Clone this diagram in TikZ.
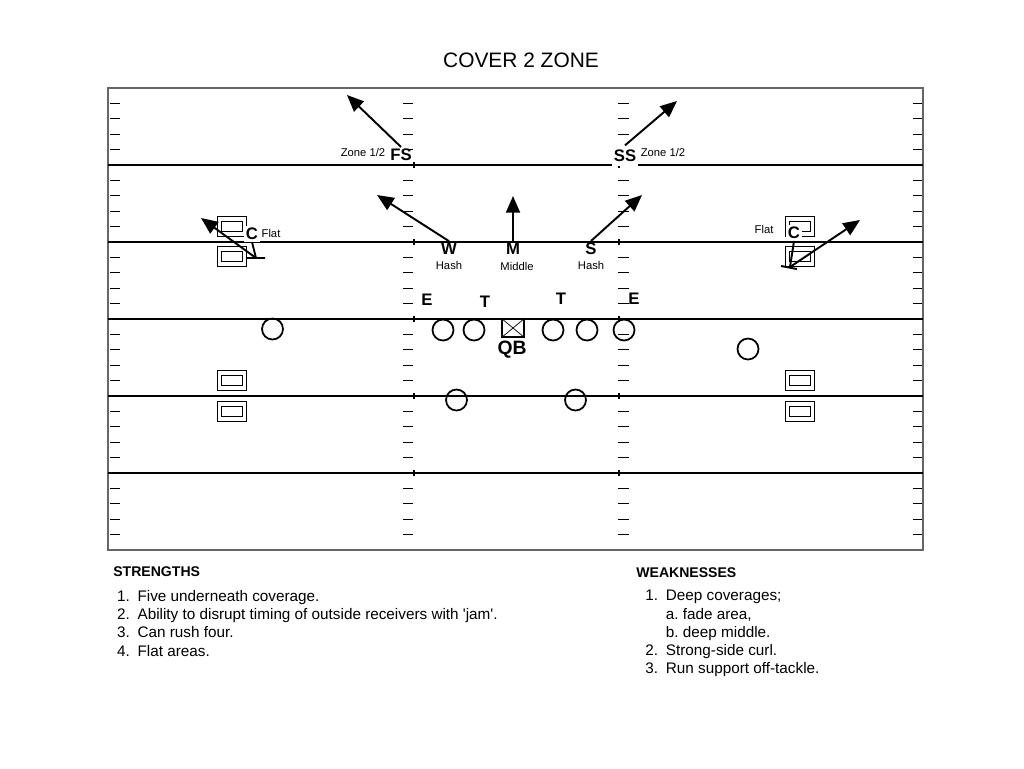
\documentclass[tikz,border=0pt]{standalone}
\usepackage{fontspec}
\setmainfont{Liberation Sans}
\usetikzlibrary{arrows.meta}

\tikzset{
  player/.style={font=\bfseries\fontsize{9.5}{11}\selectfont, inner sep=1pt},
  zonetext/.style={font=\fontsize{6.4}{7.5}\selectfont, inner sep=1pt},
  ol/.style={circle, draw, line width=1pt, minimum size=0.42cm, inner sep=0pt},
  wr/.style={rectangle, draw, line width=0.6pt, minimum width=0.59cm, minimum height=0.414cm,
    inner sep=0pt, path picture={
      \draw[line width=0.6pt] ([xshift=0.085cm, yshift=0.102cm]path picture bounding box.south west)
        rectangle ([xshift=-0.085cm, yshift=-0.102cm]path picture bounding box.north east);}},
  cover/.style={-{Triangle[length=9.5pt,width=8pt]}, line width=1.1pt},
  yard/.style={line width=0.7pt},
  hashtick/.style={line width=0.7pt},
  heading/.style={anchor=base west, inner sep=0pt, font=\bfseries\fontsize{8}{10}\selectfont},
  notes/.style={anchor=north west, align=left, inner sep=0pt, font=\fontsize{8.7}{10.4}\selectfont\frenchspacing},
}

\begin{document}
\begin{tikzpicture}[x=0.02cm, y=-0.02cm]
\useasboundingbox (0,0) rectangle (1024,768);
\node (title) at (521,60) {\fontsize{11.9}{14}\selectfont COVER 2 ZONE};

% field
\draw[line width=1.1pt, draw=gray!80!black] (108,88) rectangle (923,550);
\foreach \y in {165,242,319,396,473}
  \draw[yard] (108,\y) -- (923,\y);
\foreach \k in {0,...,5}
  \foreach \j in {1,...,4}
    \draw[hashtick] (110,{88+77*\k+15.4*\j}) -- (120,{88+77*\k+15.4*\j})
      (403,{88+77*\k+15.4*\j}) -- (413,{88+77*\k+15.4*\j})
      (618,{88+77*\k+15.4*\j}) -- (629,{88+77*\k+15.4*\j})
      (913,{88+77*\k+15.4*\j}) -- (922,{88+77*\k+15.4*\j});
\foreach \y in {165,242,319,396,473}
  \draw[hashtick] (414,\y-3) -- (414,\y+3) (619,\y-3) -- (619,\y+3);

% receivers
\node[wr] (wrL1) at (232,226.5) {};
\node[wr] (wrL2) at (232,256.5) {};
\node[wr] (wrL3) at (232,380.5) {};
\node[wr] (wrL4) at (232,411.5) {};
\node[wr] (wrR1) at (800,226.5) {};
\node[wr] (wrR2) at (800,256.5) {};
\node[wr] (wrR3) at (800,380.5) {};
\node[wr] (wrR4) at (800,411.5) {};

% offense
\node[ol] (slotL) at (272.5,329) {};
\node[ol] (lt) at (443,330) {};
\node[ol] (lg) at (474,330) {};
\node[draw, line width=1pt, minimum width=0.44cm, minimum height=0.36cm, inner sep=0pt] (ctr) at (513,328) {};
\draw[line width=0.4pt] (ctr.north west) -- (ctr.south east) (ctr.south west) -- (ctr.north east);
\node[ol] (rg) at (553,330) {};
\node[ol] (rt) at (587,330) {};
\node[ol] (te) at (624,330) {};
\node[ol] (rbL) at (456.5,400) {};
\node[ol] (rbR) at (575.5,400) {};
\node[ol] (slotR) at (748,349) {};
\node[player, font=\bfseries\fontsize{11}{13}\selectfont] (QB) at (512,350) {QB};

% defense
\node[player] (FS) at (401,155) {FS};
\node[zonetext] (FSzone) at (363,152) {Zone 1/2};
\node[player, fill=white, inner xsep=1pt, inner ysep=2.5pt] (SS) at (625,156) {SS};
\node[zonetext] (SSzone) at (663,152) {Zone 1/2};
\node[player] (W) at (449,249) {W};
\node[zonetext] (Whash) at (449,265) {Hash};
\node[player] (M) at (513,249) {M};
\node[zonetext] (Mmid) at (517,266) {Middle};
\node[player] (S) at (591,249) {S};
\node[zonetext] (Shash) at (591,265) {Hash};
\node[player, fill=white] (CL) at (252,234) {C};
\node[zonetext] (CLflat) at (271,233) {Flat};
\node[player, fill=white] (CR) at (794,233) {C};
\node[zonetext] (CRflat) at (764,229) {Flat};
\node[player] (EL) at (427,300) {E};
\node[player] (TL) at (485,302) {T};
\node[player] (TR) at (561,299) {T};
\node[player] (ER) at (634,299) {E};

% drops
\coordinate (FStip) at (347,95);
\coordinate (SStip) at (677,101);
\coordinate (Wtip) at (377,195);
\coordinate (Mtip) at (513,196);
\coordinate (Stip) at (642,195);
\coordinate (jamL) at (256,258);
\coordinate (CLtip) at (201,218);
\coordinate (jamR) at (790,267);
\coordinate (CRtip) at (860,220);
\draw[cover] (FS.north) -- (FStip);
\draw[cover] (SS.north) -- (SStip);
\draw[cover] (W.north) -- (Wtip);
\draw[cover] (M.north) -- (Mtip);
\draw[cover] (S.north) -- (Stip);
\draw[line width=1.1pt] (CL.south) -- (jamL) ++(-9,0) -- ++(18,0);
\draw[cover] (jamL) -- (CLtip);
\draw[line width=1.1pt] (CR.south) -- (jamR) ++(-9,-1) -- ++(16,3);
\draw[cover] (jamR) -- (CRtip);

% notes
\node[heading] (strengths) at (113,576) {STRENGTHS};
\node[notes] (strlist) at (116.7,590)
  {\makebox[11.7pt][l]{1.}Five underneath coverage.\\
   \makebox[11.7pt][l]{2.}Ability to disrupt timing of outside receivers with \textquotesingle jam\textquotesingle.\\
   \makebox[11.7pt][l]{3.}Can rush four.\\
   \makebox[11.7pt][l]{4.}Flat areas.};
\node[heading] (weaknesses) at (636,577) {WEAKNESSES};
\node[notes] (weaklist) at (645,590)
  {\makebox[11.7pt][l]{1.}Deep coverages;\\
   \makebox[11.7pt][l]{}a. fade area,\\
   \makebox[11.7pt][l]{}b. deep middle.\\
   \makebox[11.7pt][l]{2.}Strong-side curl.\\
   \makebox[11.7pt][l]{3.}Run support off-tackle.};
\end{tikzpicture}
\end{document}
